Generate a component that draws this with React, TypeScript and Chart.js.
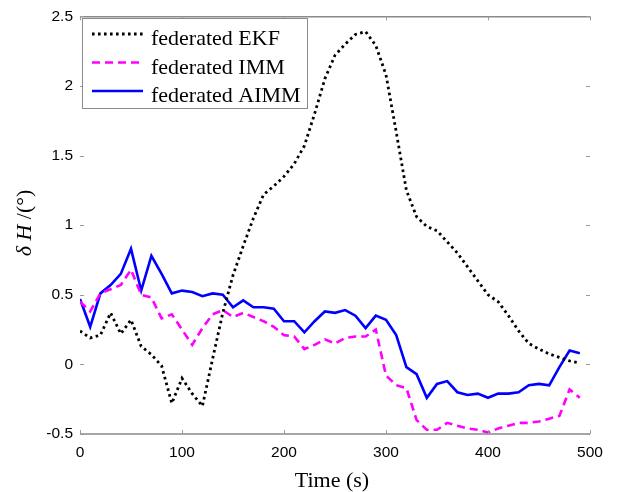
import React, { useEffect, useRef } from "react";
import { Chart, registerables } from "chart.js";

Chart.register(...registerables);

// Sample times (s)
const times = [
  0, 10, 20, 30, 40, 50, 60, 70, 80, 90,
  100, 110, 120, 130, 140, 150, 160, 170, 180, 190,
  200, 210, 220, 230, 240, 250, 260, 270, 280, 290,
  300, 310, 320, 330, 340, 350, 360, 370, 380, 390,
  400, 410, 420, 430, 440, 450, 460, 470, 480, 490,
];

// Heading error δH (deg) for each filter
const ekf = [
  0.24, 0.19, 0.21, 0.37, 0.22, 0.32, 0.13, 0.07, -0.01, -0.28,
  -0.10, -0.21, -0.30, 0.04, 0.37, 0.64, 0.85, 1.05, 1.22, 1.28,
  1.35, 1.44, 1.57, 1.80, 2.05, 2.22, 2.30, 2.37, 2.39, 2.29,
  2.08, 1.67, 1.25, 1.06, 0.99, 0.96, 0.88, 0.80, 0.70, 0.60,
  0.50, 0.45, 0.35, 0.24, 0.15, 0.11, 0.075, 0.05, 0.025, 0.01,
];

const imm = [
  0.45, 0.38, 0.51, 0.54, 0.57, 0.68, 0.50, 0.48, 0.33, 0.36,
  0.25, 0.14, 0.26, 0.36, 0.39, 0.34, 0.37, 0.34, 0.31, 0.27,
  0.21, 0.20, 0.11, 0.14, 0.18, 0.15, 0.19, 0.20, 0.20, 0.25,
  -0.08, -0.15, -0.17, -0.40, -0.47, -0.47, -0.42, -0.44, -0.46, -0.47,
  -0.49, -0.46, -0.44, -0.42, -0.42, -0.41, -0.39, -0.37, -0.18, -0.24,
];

const aimm = [
  0.47, 0.27, 0.51, 0.57, 0.65, 0.83, 0.53, 0.78, 0.65, 0.51,
  0.53, 0.52, 0.49, 0.51, 0.50, 0.41, 0.46, 0.41, 0.41, 0.40,
  0.31, 0.31, 0.23, 0.31, 0.38, 0.37, 0.39, 0.35, 0.26, 0.35,
  0.32, 0.21, -0.02, -0.07, -0.24, -0.14, -0.12, -0.20, -0.22, -0.21,
  -0.24, -0.21, -0.21, -0.20, -0.15, -0.14, -0.15, -0.02, 0.10, 0.08,
];

const xTicks = [0, 100, 200, 300, 400, 500];
const yTicks = [-0.5, 0, 0.5, 1, 1.5, 2, 2.5];

const seriesLabels = ["federated EKF", "federated IMM", "federated AIMM"];

const SANS = "'Liberation Sans', Arial, sans-serif";
const SERIF = "'Liberation Serif', 'Times New Roman', serif";

const toPoints = (vals: number[]) => times.map((t, i) => ({ x: t, y: vals[i] }));

// Box lines, inward tick marks, axis titles and the in-plot legend
const decorations = {
  id: "decorations",
  afterDraw(chart: any) {
    const { ctx, chartArea, scales } = chart;
    const { left, right, top, bottom } = chartArea;
    const xs = scales.x;
    const ys = scales.y;
    ctx.save();

    // top and bottom box lines
    ctx.strokeStyle = "#8a8a8a";
    ctx.lineWidth = 1.5;
    ctx.beginPath();
    ctx.moveTo(left, top + 0.5);
    ctx.lineTo(right, top + 0.5);
    ctx.moveTo(left, bottom);
    ctx.lineTo(right, bottom);
    ctx.stroke();

    // inward tick marks
    ctx.strokeStyle = "#9a9a9a";
    ctx.lineWidth = 1;
    ctx.beginPath();
    xTicks.forEach((v) => {
      const px = Math.round(xs.getPixelForValue(v)) + 0.5;
      ctx.moveTo(px, bottom);
      ctx.lineTo(px, bottom - 4);
      ctx.moveTo(px, top);
      ctx.lineTo(px, top + 4);
    });
    yTicks.forEach((v) => {
      const py = Math.round(ys.getPixelForValue(v)) + 0.5;
      ctx.moveTo(left, py);
      ctx.lineTo(left + 4, py);
      ctx.moveTo(right, py);
      ctx.lineTo(right - 4, py);
    });
    ctx.stroke();

    // x axis title
    ctx.fillStyle = "#000";
    ctx.font = `22px ${SERIF}`;
    ctx.textAlign = "center";
    ctx.textBaseline = "alphabetic";
    ctx.fillText("Time (s)", 332, 487);

    // y axis title, rotated
    ctx.save();
    ctx.translate(31, 223);
    ctx.rotate(-Math.PI / 2);
    ctx.textBaseline = "alphabetic";
    ctx.textAlign = "left";
    const partA = "δ H";
    const partB = " /(°)";
    ctx.font = `italic 22px ${SERIF}`;
    const wA = ctx.measureText(partA).width;
    ctx.font = `22px ${SERIF}`;
    const wB = ctx.measureText(partB).width;
    const start = -(wA + wB) / 2;
    ctx.font = `italic 22px ${SERIF}`;
    ctx.fillText(partA, start, 0);
    ctx.font = `22px ${SERIF}`;
    ctx.fillText(partB, start + wA, 0);
    ctx.restore();

    // legend
    const bx = 82.5;
    const by = 18.5;
    const bw = 225;
    const bh = 90;
    ctx.fillStyle = "#fff";
    ctx.fillRect(bx, by, bw, bh);
    ctx.strokeStyle = "#8a8a8a";
    ctx.lineWidth = 1;
    ctx.strokeRect(bx, by, bw, bh);

    chart.data.datasets.forEach((ds: any, i: number) => {
      const ly = 34 + i * 28.5;
      ctx.save();
      ctx.strokeStyle = ds.borderColor;
      ctx.lineWidth = ds.borderWidth;
      ctx.setLineDash(ds.borderDash || []);
      ctx.lineCap = "butt";
      ctx.beginPath();
      ctx.moveTo(92, ly);
      ctx.lineTo(143, ly);
      ctx.stroke();
      ctx.restore();
      ctx.fillStyle = "#000";
      ctx.font = `22px ${SERIF}`;
      ctx.textAlign = "left";
      ctx.textBaseline = "alphabetic";
      ctx.fillText(ds.label, 151, ly + 11);
    });

    ctx.restore();
  },
};

export default function App() {
  const canvasRef = useRef<HTMLCanvasElement | null>(null);

  useEffect(() => {
    if (!canvasRef.current) return;
    const chart = new Chart(canvasRef.current, {
      type: "line",
      data: {
        datasets: [
          {
            label: seriesLabels[0],
            data: toPoints(ekf),
            borderColor: "#000000",
            borderWidth: 2.8,
            borderDash: [2.6, 3.4],
            pointRadius: 0,
            fill: false,
            tension: 0,
          },
          {
            label: seriesLabels[1],
            data: toPoints(imm),
            borderColor: "#ff00ff",
            borderWidth: 2.6,
            borderDash: [8, 5],
            pointRadius: 0,
            fill: false,
            tension: 0,
          },
          {
            label: seriesLabels[2],
            data: toPoints(aimm),
            borderColor: "#0000ff",
            borderWidth: 2.6,
            pointRadius: 0,
            fill: false,
            tension: 0,
          },
        ],
      },
      options: {
        responsive: false,
        animation: false,
        layout: { padding: { top: 11, right: 29, left: 0, bottom: 0 } },
        plugins: {
          legend: { display: false },
          tooltip: { enabled: false },
        },
        scales: {
          x: {
            type: "linear",
            min: 0,
            max: 500,
            afterBuildTicks: (s: any) => {
              s.ticks = xTicks.map((v) => ({ value: v }));
            },
            afterFit: (s: any) => {
              s.height = 58;
            },
            grid: { display: false, drawTicks: false },
            border: { display: false },
            ticks: {
              padding: 9,
              color: "#000",
              maxRotation: 0,
              autoSkip: false,
              font: { family: SANS, size: 15.5 },
            },
          },
          y: {
            type: "linear",
            min: -0.5,
            max: 2.5,
            afterBuildTicks: (s: any) => {
              s.ticks = yTicks.map((v) => ({ value: v }));
            },
            afterFit: (s: any) => {
              s.width = 80;
            },
            grid: { display: false, drawTicks: false },
            border: { display: false },
            ticks: {
              padding: 7,
              color: "#000",
              autoSkip: false,
              font: { family: SANS, size: 15.5 },
              callback: (v: any) => String(v),
            },
          },
        },
      },
      plugins: [decorations],
    });
    return () => chart.destroy();
  }, []);

  return (
    <div style={{ position: "fixed", left: 0, top: 0, width: 619, height: 492, background: "#fff" }}>
      <canvas ref={canvasRef} width={619} height={492} style={{ display: "block" }} />
    </div>
  );
}
